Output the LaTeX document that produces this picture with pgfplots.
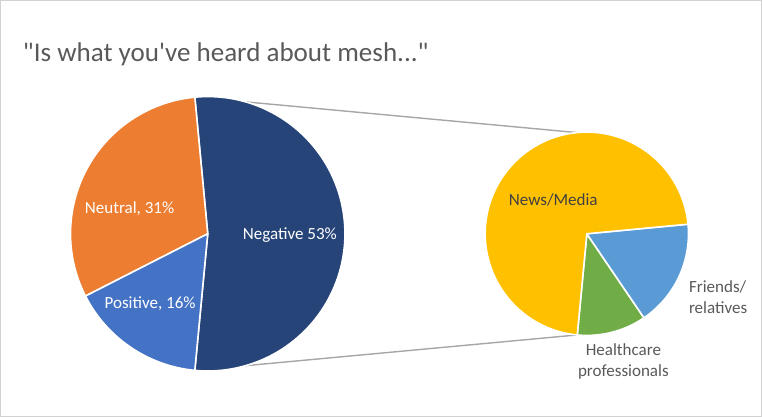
\documentclass[border=0pt]{standalone}
\usepackage{fontspec}
\setmainfont{Carlito}
\usepackage{pgfplots}
\pgfplotsset{compat=1.18}

\definecolor{negC}{HTML}{264478}
\definecolor{neuC}{HTML}{ED7D31}
\definecolor{posC}{HTML}{4472C4}
\definecolor{newsC}{HTML}{FFC000}
\definecolor{friC}{HTML}{5B9BD5}
\definecolor{hcC}{HTML}{70AD47}
\definecolor{txtC}{HTML}{595959}
\definecolor{lineC}{HTML}{A6A6A6}

% shares in percent
\def\Negative{53}\def\Neutral{31}\def\Positive{16}
\def\News{72}\def\Friends{17}\def\Health{11}

% cx, cy, radius, start angle, end angle, colour
\newcommand{\slice}[6]{%
  \fill[#6, draw=white, line width=1.6bp, line join=round]
    (axis cs:#1,#2) -- ++(#4:#3) arc[start angle=#4, end angle=#5, radius=#3] -- cycle;}

\begin{document}
\begin{tikzpicture}
\pgfmathsetmacro{\aNeg}{1.8*\Negative}
\pgfmathsetmacro{\aNeu}{\aNeg+3.6*\Neutral}
\pgfmathsetmacro{\aPos}{\aNeu+3.6*\Positive}
\pgfmathsetmacro{\aHc}{-\aNeg+3.6*\Health}
\pgfmathsetmacro{\aFr}{\aHc+3.6*\Friends}
\pgfmathsetmacro{\aNw}{\aFr+3.6*\News}
\begin{axis}[
    x=1bp, y=1bp, scale only axis,
    xmin=0, xmax=762, ymin=0, ymax=417,
    hide axis, clip=false,
]
% frame
\addplot[gray!35, line width=0.8bp] coordinates {(1,1)(761,1)(761,416)(1,416)(1,1)};
% connectors
\addplot[lineC, line width=1.4bp] coordinates {(195.1,319.4)(577,284.0)};
\addplot[lineC, line width=1.4bp] coordinates {(195.1,46.6)(577,82.0)};
% main pie
\slice{208}{183}{137bp}{\aNeg}{-\aNeg}{negC}
\slice{208}{183}{137bp}{\aNeg}{\aNeu}{neuC}
\slice{208}{183}{137bp}{\aNeu}{\aPos}{posC}
% secondary pie
\slice{586.5}{183}{101.5bp}{-\aNeg}{\aHc}{hcC}
\slice{586.5}{183}{101.5bp}{\aHc}{\aFr}{friC}
\slice{586.5}{183}{101.5bp}{\aFr}{\aNw}{newsC}
% labels
\node[anchor=base west, text=txtC, font=\fontsize{27bp}{30bp}\selectfont]
  at (axis cs:20,355) {\textquotedbl Is what you\textquotesingle ve heard about mesh...\textquotedbl};
\node[text=white, font=\fontsize{17bp}{20bp}\selectfont] at (axis cs:290,182) {Negative 53\%};
\node[text=white, font=\fontsize{17bp}{20bp}\selectfont] at (axis cs:130,208) {Neutral, 31\%};
\node[text=white, font=\fontsize{17bp}{20bp}\selectfont] at (axis cs:150.5,113) {Positive, 16\%};
\node[text=black!75, font=\fontsize{17bp}{20bp}\selectfont] at (axis cs:553,217) {News/Media};
\node[text=txtC, align=left, anchor=west, font=\fontsize{17bp}{21bp}\selectfont]
  at (axis cs:685,119.5) {Friends/\\relatives};
\node[text=txtC, align=center, font=\fontsize{17bp}{21bp}\selectfont]
  at (axis cs:623,55.5) {Healthcare\\professionals};
\end{axis}
\end{tikzpicture}
\end{document}
